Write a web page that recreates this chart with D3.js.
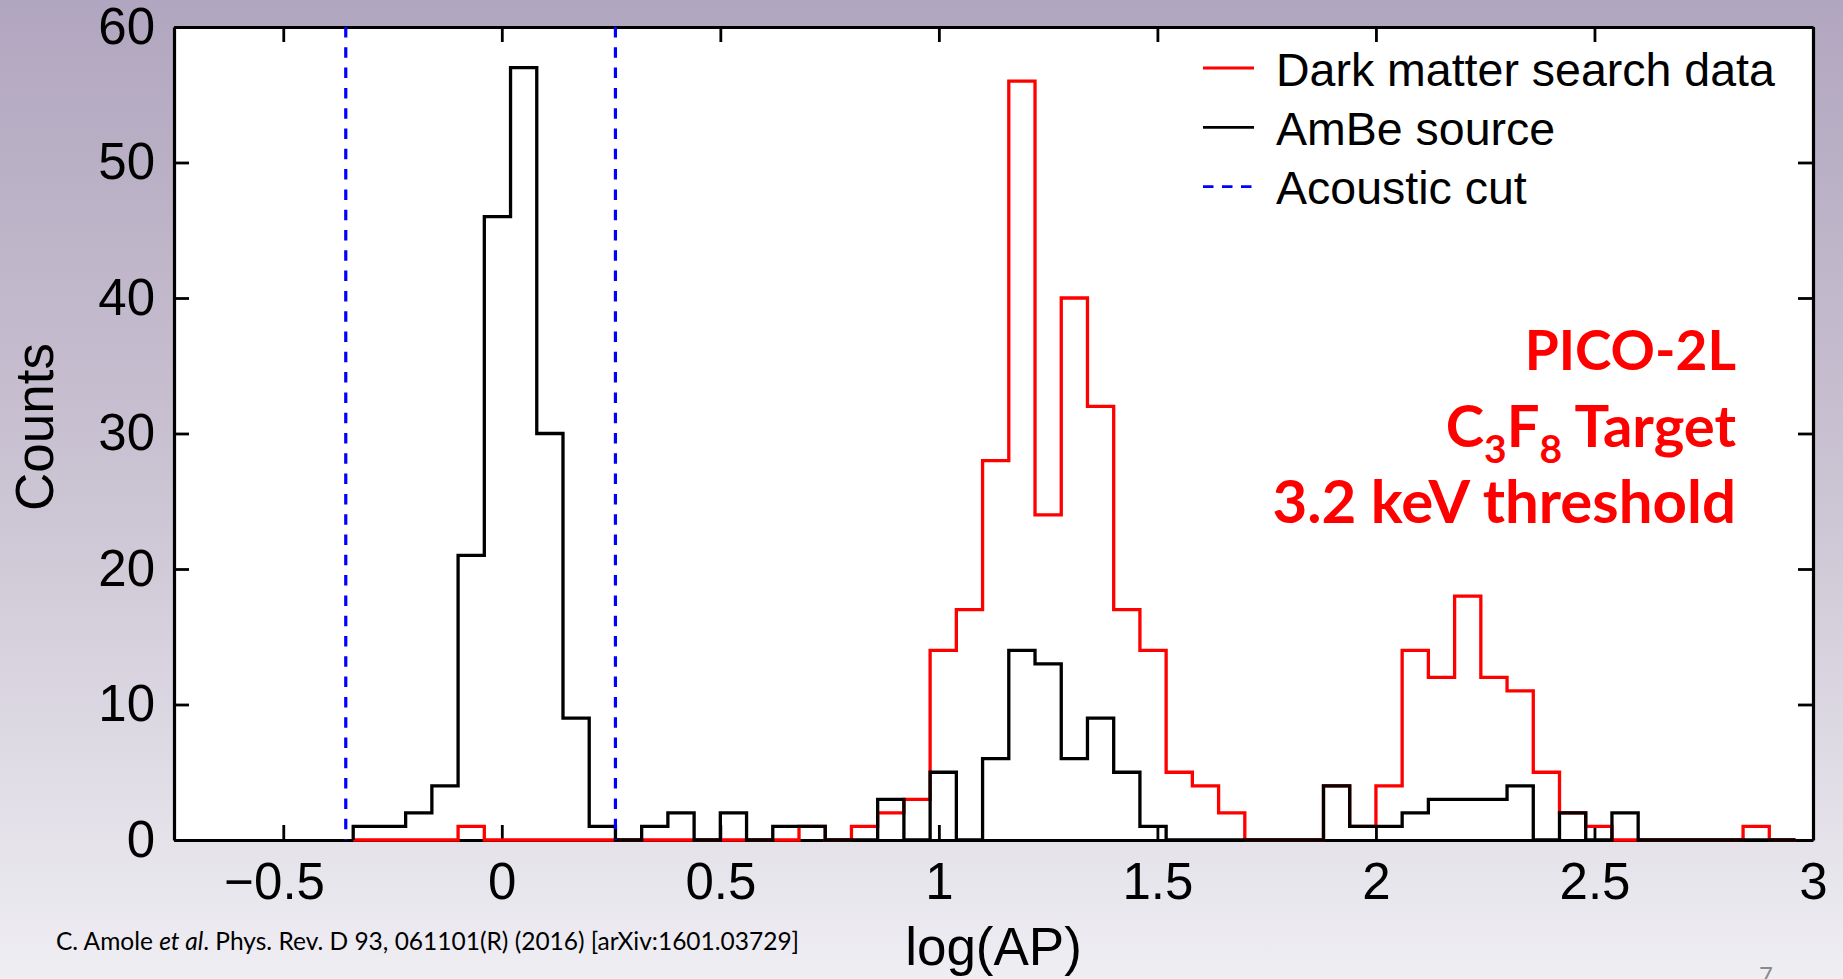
<!DOCTYPE html>
<html><head><meta charset="utf-8">
<script src="https://cdn.jsdelivr.net/npm/d3@7"></script>
<style>html,body{margin:0;padding:0;overflow:hidden;background:#fff}</style>
</head><body>
<svg id="chart" width="1843" height="979"></svg>
<script>
// ---- data ----
const binLeftEdges = [-0.34,-0.28,-0.22,-0.16,-0.10,-0.04,0.02,0.08,0.14,0.20,
  0.26,0.32,0.38,0.44,0.50,0.56,0.62,0.68,0.74,0.80,
  0.86,0.92,0.98,1.04,1.10,1.16,1.22,1.28,1.34,1.40,
  1.46,1.52,1.58,1.64,1.70,1.76,1.82,1.88,1.94,2.00,
  2.06,2.12,2.18,2.24,2.30,2.36,2.42,2.48,2.54,2.60,
  2.66,2.72,2.78,2.84,2.90];
const binWidth = 0.06;
const darkMatterCounts = [0,0,0,0,1,0,0,0,0,0,
  0,0,0,0,0,0,0,1,0,1,
  2,3,14,17,28,56,24,40,32,17,
  14,5,4,2,0,0,0,4,1,4,
  14,12,18,12,11,5,2,1,0,0,
  0,0,0,1,0];
const ambeCounts = [1,1,2,4,21,46,57,30,9,1,
  0,1,2,0,2,0,1,1,0,0,
  3,0,5,0,6,14,13,6,9,5,
  1,0,0,0,0,0,0,4,1,1,
  2,3,3,3,4,0,2,0,2,0,
  0,0,0,0,0];
const acousticCut = [-0.357, 0.26];
const xTicks = [-0.5,0,0.5,1,1.5,2,2.5,3];
const xTickLabels = ["\u22120.5","0","0.5","1","1.5","2","2.5","3"];
const yTicks = [0,10,20,30,40,50,60];
const yTickLabels = ["0","10","20","30","40","50","60"];
const legendLabels = ["Dark matter search data","AmBe source","Acoustic cut"];
const xAxisTitle = "log(AP)";
const yAxisTitle = "Counts";
const pageNumber = "7";

// ---- layout ----
const W = 1843, H = 979;
const plot = {left:174, right:1813, top:27, bottom:840};
const svg = d3.select("#chart");
const sans = "'Liberation Sans', Arial, Helvetica, sans-serif";
const slideFont = "Lato, 'Open Sans', sans-serif";

const defs = svg.append("defs");
const grad = defs.append("linearGradient").attr("id","bg").attr("x1",0).attr("y1",0).attr("x2",0).attr("y2",1);
grad.append("stop").attr("offset","0%").attr("stop-color","#b1a6bf");
grad.append("stop").attr("offset","50%").attr("stop-color","#cbc4d3");
grad.append("stop").attr("offset","100%").attr("stop-color","#efeef3");
svg.append("rect").attr("width",W).attr("height",H).attr("fill","url(#bg)");

const x = d3.scaleLinear().domain([-0.75,3]).range([plot.left, plot.right]);
const y = d3.scaleLinear().domain([0,60]).range([plot.bottom, plot.top]);

svg.append("rect").attr("x",plot.left).attr("y",plot.top)
  .attr("width",plot.right-plot.left).attr("height",plot.bottom-plot.top).attr("fill","#fff");

defs.append("clipPath").attr("id","clip").append("rect")
  .attr("x",plot.left).attr("y",plot.top-2).attr("width",plot.right-plot.left).attr("height",plot.bottom-plot.top+4);

// ---- axes (frame + inward ticks) ----
function styleAxis(g){
  g.selectAll(".domain").attr("stroke","#000").attr("stroke-width",3.2);
  g.selectAll(".tick line").attr("stroke","#000").attr("stroke-width",2.8);
  g.selectAll(".tick text").attr("fill","#000").style("font-family",sans).style("font-size","51px");
}
const gx = svg.append("g").attr("transform",`translate(0,${plot.bottom})`)
  .call(d3.axisBottom(x).tickValues(xTicks).tickFormat((d,i)=>xTickLabels[i]).tickSizeInner(-15).tickSizeOuter(0).tickPadding(23));
styleAxis(gx);
gx.selectAll(".tick text").filter(d=>d<0).attr("dx","-0.18em");
const gxt = svg.append("g").attr("transform",`translate(0,${plot.top})`)
  .call(d3.axisTop(x).tickValues(xTicks).tickFormat("").tickSizeInner(-15).tickSizeOuter(0));
styleAxis(gxt);
const gy = svg.append("g").attr("transform",`translate(${plot.left},0)`)
  .call(d3.axisLeft(y).tickValues(yTicks).tickFormat((d,i)=>yTickLabels[i]).tickSizeInner(-15).tickSizeOuter(0).tickPadding(19));
styleAxis(gy);
const gyr = svg.append("g").attr("transform",`translate(${plot.right},0)`)
  .call(d3.axisRight(y).tickValues(yTicks).tickFormat("").tickSizeInner(-15).tickSizeOuter(0));
styleAxis(gyr);
gx.selectAll(".tick").filter(d=>d===3).select("line").remove();

// ---- histograms ----
const stepLine = d3.line().x(d=>x(d[0])).y(d=>y(d[1])).curve(d3.curveStepAfter);
function histPoints(counts){
  const pts = [[binLeftEdges[0],0]];
  counts.forEach((c,i)=>pts.push([binLeftEdges[i],c]));
  pts.push([binLeftEdges[binLeftEdges.length-1]+binWidth,0]);
  return pts;
}
const hg = svg.append("g").attr("clip-path","url(#clip)");
hg.append("path").attr("d",stepLine(histPoints(darkMatterCounts)))
  .attr("fill","none").attr("stroke","#ff0000").attr("stroke-width",3.3).attr("stroke-linejoin","miter");
hg.append("path").attr("d",stepLine(histPoints(ambeCounts)))
  .attr("fill","none").attr("stroke","#000").attr("stroke-width",3.3).attr("stroke-linejoin","miter");

// acoustic cut lines
hg.selectAll("line.cut").data(acousticCut).join("line").attr("class","cut")
  .attr("x1",d=>x(d)).attr("x2",d=>x(d)).attr("y1",y(60)).attr("y2",y(0))
  .attr("stroke","#0000ff").attr("stroke-width",3.2).attr("stroke-dasharray","10.5,9.8");

// ---- legend ----
const legendStyles = [
  {color:"#ff0000", dash:null},
  {color:"#000000", dash:null},
  {color:"#0000ff", dash:"10.5,8.5"}
];
const lg = svg.append("g");
legendLabels.forEach((lab,i)=>{
  const ly = 68 + i*59.3;
  lg.append("line").attr("x1",1203).attr("x2",1254).attr("y1",ly).attr("y2",ly)
    .attr("stroke",legendStyles[i].color).attr("stroke-width",2.8)
    .attr("stroke-dasharray",legendStyles[i].dash);
  lg.append("text").attr("x",1276).attr("y",ly+17.5).text(lab)
    .style("font-family",sans).style("font-size","46.5px").attr("fill","#000");
});

// ---- axis titles ----
svg.append("text").attr("x",(plot.left+plot.right)/2).attr("y",965).attr("text-anchor","middle")
  .style("font-family",sans).style("font-size","53px").text(xAxisTitle);
svg.append("text").attr("transform","translate(53,427) rotate(-90)").attr("text-anchor","middle")
  .style("font-family",sans).style("font-size","53px").text(yAxisTitle);

// ---- annotation ----
const ann = svg.append("g").style("font-family",slideFont).style("font-weight","bold").attr("fill","#ff0000");
ann.append("text").attr("x",1736).attr("y",370).attr("text-anchor","end").style("font-size","55px").text("PICO-2L");
const t2 = ann.append("text").attr("x",1736).attr("y",446.5).attr("text-anchor","end").style("font-size","58px");
t2.append("tspan").text("C");
t2.append("tspan").attr("dy",16).style("font-size","39px").text("3");
t2.append("tspan").attr("dy",-16).text("F");
t2.append("tspan").attr("dy",16).style("font-size","39px").text("8");
t2.append("tspan").attr("dy",-16).text(" Target");
ann.append("text").attr("x",1736).attr("y",523).attr("text-anchor","end").style("font-size","60px").text("3.2 keV threshold");

// ---- citation ----
const cit = svg.append("text").attr("x",56).attr("y",950).style("font-family",slideFont).style("font-size","24.5px").attr("fill","#000");
cit.append("tspan").text("C. Amole ");
cit.append("tspan").style("font-style","italic").text("et al");
cit.append("tspan").text(". Phys. Rev. D 93, 061101(R) (2016) [arXiv:1601.03729]");

svg.append("text").attr("x",1766).attr("y",984).attr("text-anchor","middle")
  .style("font-family",slideFont).style("font-size","24px").attr("fill","#8a8a8a").text(pageNumber);
</script>
</body></html>
